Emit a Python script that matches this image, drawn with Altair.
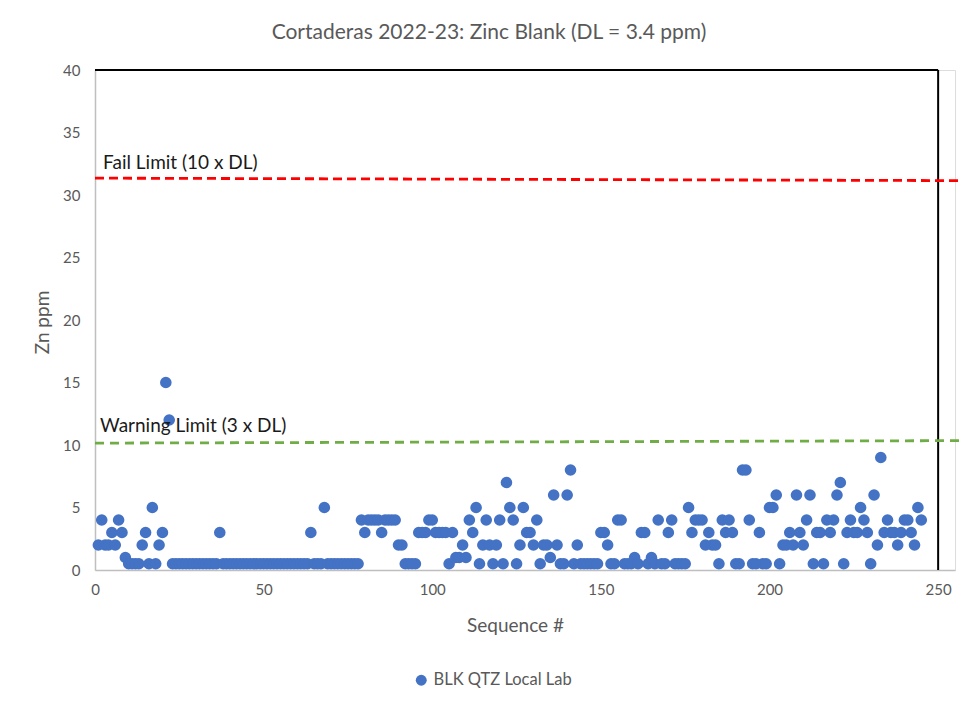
import altair as alt
import pandas as pd

# ---- data ----
zn_ppm = [
    2, 4, 2, 2, 3, 2, 4, 3, 1, 0.5,
    0.5, 0.5, 0.5, 2, 3, 0.5, 5, 0.5, 2, 3,
    15, 12, 0.5, 0.5, 0.5, 0.5, 0.5, 0.5, 0.5, 0.5,
    0.5, 0.5, 0.5, 0.5, 0.5, 0.5, 3, 0.5, 0.5, 0.5,
    0.5, 0.5, 0.5, 0.5, 0.5, 0.5, 0.5, 0.5, 0.5, 0.5,
    0.5, 0.5, 0.5, 0.5, 0.5, 0.5, 0.5, 0.5, 0.5, 0.5,
    0.5, 0.5, 0.5, 3, 0.5, 0.5, 0.5, 5, 0.5, 0.5,
    0.5, 0.5, 0.5, 0.5, 0.5, 0.5, 0.5, 0.5, 4, 3,
    4, 4, 4, 4, 3, 4, 4, 4, 4, 2,
    2, 0.5, 0.5, 0.5, 0.5, 3, 3, 3, 4, 4,
    3, 3, 3, 3, 0.5, 3, 1, 1, 2, 1,
    4, 3, 5, 0.5, 2, 4, 2, 0.5, 2, 4,
    0.5, 7, 5, 4, 0.5, 2, 5, 3, 3, 2,
    4, 0.5, 2, 2, 1, 6, 2, 0.5, 0.5, 6,
    8, 0.5, 2, 0.5, 0.5, 0.5, 0.5, 0.5, 0.5, 3,
    3, 2, 0.5, 0.5, 4, 4, 0.5, 0.5, 0.5, 1,
    0.5, 3, 3, 0.5, 1, 0.5, 4, 0.5, 0.5, 3,
    4, 0.5, 0.5, 0.5, 0.5, 5, 3, 4, 4, 4,
    2, 3, 2, 2, 0.5, 4, 3, 4, 3, 0.5,
    0.5, 8, 8, 4, 0.5, 0.5, 3, 0.5, 0.5, 5,
    5, 6, 0.5, 2, 2, 3, 2, 6, 3, 2,
    4, 6, 0.5, 3, 3, 0.5, 4, 3, 4, 6,
    7, 0.5, 3, 4, 3, 3, 5, 4, 3, 0.5,
    6, 2, 9, 3, 4, 3, 3, 2, 3, 4,
    4, 3, 2, 5, 4,
]
sequence = list(range(1, len(zn_ppm) + 1))
series_name = "BLK QTZ Local Lab"

fail_x = [0, 257]
fail_y = [31.35, 31.15]
warn_x = [0, 257]
warn_y = [10.15, 10.35]

label_text = ["Fail Limit (10 x DL)", "Warning Limit (3 x DL)"]
label_x = [2.4, 1.5]
label_y = [32.55, 11.5]

box_x = [0, 250]
box_y = [0, 40]

x_ticks = [0, 50, 100, 150, 200, 250]
y_ticks = [0, 5, 10, 15, 20, 25, 30, 35, 40]

FONT = "Lato"
GREY = "#595959"

pts = pd.DataFrame({"seq": sequence, "zn": zn_ppm, "series": series_name})
fail_df = pd.DataFrame({"x": fail_x, "y": fail_y})
warn_df = pd.DataFrame({"x": warn_x, "y": warn_y})
lab_df = pd.DataFrame({"t": label_text, "x": label_x, "y": label_y})
top_df = pd.DataFrame({"x": [box_x[0]], "x2": [box_x[1]], "y": [box_y[1]]})
right_df = pd.DataFrame({"x": [box_x[1]], "y": [box_y[0]], "y2": [box_y[1]]})

xscale = alt.Scale(domain=[0, 255], nice=False, zero=False)
yscale = alt.Scale(domain=[0, 40], nice=False)

xaxis = alt.Axis(
    values=x_ticks, grid=False, ticks=False, domainColor="#BFBFBF", domainWidth=1.5,
    labelFontSize=15, labelColor=GREY, labelFont=FONT, labelPadding=12,
    labelFlush=False,
    title="Sequence #", titleFontSize=19, titleFont=FONT, titleColor=GREY,
    titleFontWeight="normal", titleX=420, titleY=55, titleBaseline="middle",
    titleAlign="center",
)
yaxis = alt.Axis(
    values=y_ticks, grid=False, ticks=False, domainColor="#BFBFBF", domainWidth=1.5,
    labelFontSize=15, labelColor=GREY, labelFont=FONT, labelPadding=15,
    labelFlush=False,
    title="Zn ppm", titleFontSize=19, titleFont=FONT, titleColor=GREY,
    titleFontWeight="normal", titleX=-53, titleY=252, titleBaseline="middle",
    titleAlign="center",
)

points = alt.Chart(pts).mark_circle(size=135, opacity=1).encode(
    x=alt.X("seq:Q", scale=xscale, axis=xaxis),
    y=alt.Y("zn:Q", scale=yscale, axis=yaxis),
    color=alt.Color(
        "series:N",
        scale=alt.Scale(range=["#4472C4"]),
        legend=alt.Legend(
            orient="none", legendX=318, legendY=602, title=None,
            labelFontSize=16.5, labelColor=GREY, labelFont=FONT,
            symbolType="circle", symbolSize=120, symbolStrokeWidth=0,
        ),
    ),
)

fail_line = alt.Chart(fail_df).mark_line(
    color="#FF0000", strokeWidth=2.8, strokeDash=[9, 5], clip=False
).encode(x=alt.X("x:Q", scale=xscale), y=alt.Y("y:Q", scale=yscale))

warn_line = alt.Chart(warn_df).mark_line(
    color="#70AD47", strokeWidth=2.8, strokeDash=[9, 6], clip=False
).encode(x=alt.X("x:Q", scale=xscale), y=alt.Y("y:Q", scale=yscale))

labels = alt.Chart(lab_df).mark_text(
    align="left", baseline="middle", fontSize=19, font=FONT, color="#1a1a1a"
).encode(x=alt.X("x:Q", scale=xscale), y=alt.Y("y:Q", scale=yscale), text="t:N")

top_rule = alt.Chart(top_df).mark_rule(color="black", strokeWidth=2).encode(
    x=alt.X("x:Q", scale=xscale), x2="x2:Q", y=alt.Y("y:Q", scale=yscale)
)
right_rule = alt.Chart(right_df).mark_rule(color="black", strokeWidth=2).encode(
    x=alt.X("x:Q", scale=xscale), y=alt.Y("y:Q", scale=yscale), y2="y2:Q"
)

chart = alt.layer(top_rule, right_rule, fail_line, warn_line, points, labels).properties(
    width=860,
    height=500,
    padding={"left": 87, "top": 62, "right": 14, "bottom": 125},
    autosize=alt.AutoSizeParams(type="none"),
    title=alt.TitleParams(
        "Cortaderas 2022-23: Zinc Blank (DL = 3.4 ppm)",
        fontSize=21, font=FONT, color=GREY, fontWeight="normal",
        anchor="middle", frame="group", dx=-36, offset=3, baseline="alphabetic",
    ),
).configure_view(stroke=None).configure(background="white")

chart.save("out.html", embed_options={"renderer": "svg", "actions": False})
